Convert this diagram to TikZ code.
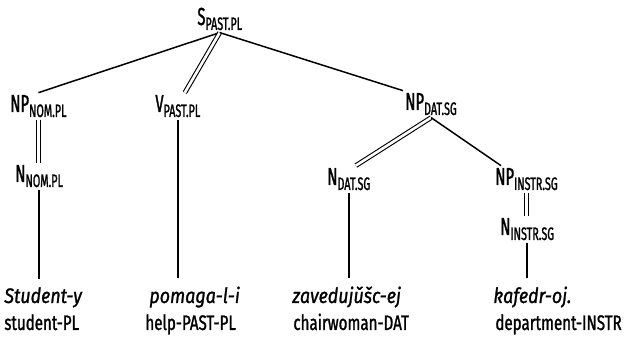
\documentclass[tikz,border=0pt]{standalone}
\usepackage{fontspec}
\setmainfont[FakeStretch=0.72, FakeBold=1.2]{Fira Sans}
\newfontfamily\catfont[FakeStretch=0.6, FakeBold=1.2]{Fira Sans}
\newfontfamily\wordfont[FakeStretch=0.85, FakeBold=1.2]{Fira Sans}
\usetikzlibrary{calc}

\newcommand{\cat}[2]{#1\raisebox{-2.5pt}{\fontsize{9}{10}\selectfont #2}}

\tikzset{
  lab/.style={anchor=base west, inner sep=1pt, font=\catfont\fontsize{12.3}{14}\selectfont},
  word/.style={anchor=base west, inner sep=1pt, font=\wordfont\fontsize{10.5}{12}\selectfont\itshape},
  gloss/.style={anchor=base west, inner sep=1pt, font=\fontsize{10.5}{12}\selectfont},
  br/.style={line width=0.75pt},
  dbl/.style={double, double distance=1.3pt, line width=0.55pt}
}

\begin{document}
\begin{tikzpicture}[x=0.5pt, y=-0.5pt]
  \useasboundingbox (0,0) rectangle (629,341);

  % categories
  \node[lab] (s) at (195,25) {\cat{S}{PAST.PL}};
  \node[lab] (npnom) at (8,112) {\cat{NP}{NOM.PL}};
  \node[lab] (vpast) at (153,112) {\cat{V}{PAST.PL}};
  \node[lab] (npdat) at (403,110) {\cat{NP}{DAT.SG}};
  \node[lab] (nnom) at (13,182) {\cat{N}{NOM.PL}};
  \node[lab] (ndat) at (325,185) {\cat{N}{DAT.SG}};
  \node[lab] (npinstr) at (493,185) {\cat{NP}{INSTR.SG}};
  \node[lab] (ninstr) at (498,235) {\cat{N}{INSTR.SG}};

  % words and glosses
  \node[word] (w1) at (2,303) {Student-y};
  \node[word] (w2) at (147,303) {pomaga-l-i};
  \node[word] (w3) at (290,303) {zaveduj\v{u}\v{s}c-ej};
  \node[word] (w4) at (491,303) {kafedr-oj.};
  \node[gloss] (g1) at (2,330) {student-PL};
  \node[gloss] (g2) at (143,330) {help-PAST-PL};
  \node[gloss] (g3) at (291,330) {chairwoman-DAT};
  \node[gloss] (g4) at (493,330) {department-INSTR};

  % branches
  \draw[br] (s.south) -- (npnom.north);
  \draw[dbl] (s.south) -- ($(vpast.north)+(7,0)$);
  \draw[br] (s.south) -- (npdat.north west);
  \draw[dbl] (npnom.south) -- (npnom.south |- nnom.north);
  \draw[br, shorten >=3pt] (nnom.south) -- (nnom.south |- w1.north);
  \draw[br, shorten >=3pt] (vpast.south) -- (vpast.south |- w2.north);
  \draw[dbl] (npdat.south) -- ($(ndat.north)+(7,0)$);
  \draw[br] (npdat.south) -- ($(npinstr.north west)+(8,0)$);
  \draw[br, shorten >=3pt] (ndat.south) -- (ndat.south |- w3.north);
  \draw[dbl] (npinstr.south) -- (npinstr.south |- ninstr.north);
  \draw[br, shorten >=3pt] (ninstr.south) -- (ninstr.south |- w4.north);
\end{tikzpicture}
\end{document}
